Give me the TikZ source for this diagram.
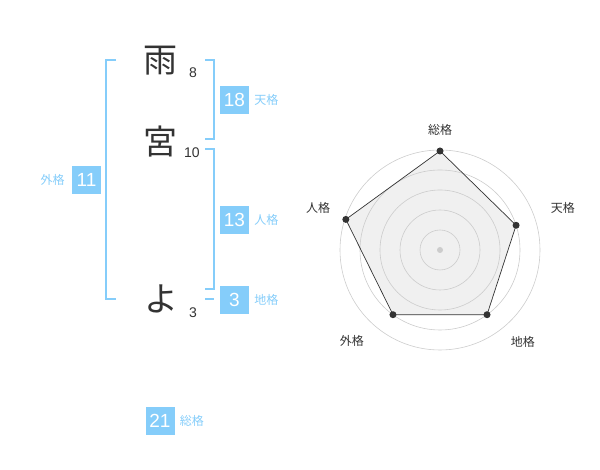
\documentclass[tikz,border=0pt]{standalone}
\usepackage{fontspec}
\setmainfont{Liberation Sans}
\newfontfamily\jp{Noto Sans CJK JP}
\usetikzlibrary{positioning}
\definecolor{kakublue}{HTML}{85CDFA}
\definecolor{inkgray}{HTML}{333333}

\begin{document}
\begin{tikzpicture}[x=1pt,y=1pt,
    kanji/.style={font=\jp\fontsize{34}{34}\selectfont, text=inkgray, inner sep=0pt},
    strokes/.style={font=\fontsize{14}{14}\selectfont, text=inkgray, inner sep=0pt},
    kakubox/.style={fill=kakublue, text=white, minimum width=29pt, minimum height=28pt, inner sep=0pt, font=\fontsize{19}{19}\selectfont},
    kakulabel/.style={font=\jp\fontsize{12}{12}\selectfont, text=kakublue, inner sep=0pt},
    bracket/.style={draw=kakublue, line width=2pt},
    radarlabel/.style={font=\jp\fontsize{12}{12}\selectfont, text=inkgray, inner sep=0pt}]
  \useasboundingbox (0,0) rectangle (600,470);

  % name and strokes
  \node[kanji] (ame) at (160,409) {雨};
  \node[strokes] (n8) at (193,397) {8};
  \node[kanji] (miya) at (160,328) {宮};
  \node[strokes] (n10) at (192,317) {10};
  \node[kanji] (yo) at (161,171) {よ};
  \node[strokes] (n3) at (193,157) {3};

  % brackets
  \draw[bracket] (116,410) -- (106,410) -- (106,171) -- (116,171);
  \draw[bracket] (205,410) -- (214,410) -- (214,331) -- (205,331);
  \draw[bracket] (205,321) -- (214,321) -- (214,181) -- (205,181);
  \draw[bracket] (205,171) -- (214,171);

  % kaku boxes
  \node[kakubox] (ten) at (234.5,370) {18};
  \node[kakulabel, right=5pt of ten] (tenl) {天格};
  \node[kakubox] (jin) at (234.5,250) {13};
  \node[kakulabel, right=5pt of jin] (jinl) {人格};
  \node[kakubox] (chi) at (234.5,170) {3};
  \node[kakulabel, right=5pt of chi] (chil) {地格};
  \node[kakubox] (gai) at (86.5,290) {11};
  \node[kakulabel, left=7pt of gai] (gail) {外格};
  \node[kakubox] (sou) at (160,49) {21};
  \node[kakulabel, right=5pt of sou] (soul) {総格};

  % radar
  \begin{scope}[shift={(440,220)}]
    \foreach \a/\v/\la/\lr/\t [count=\i] in {90/99/90/120/総格, 18/80/19/130/天格, -54/80/-48/124/地格, -126/80/-134/127/外格, 162/99/161/129/人格} {
      \coordinate (p\i) at (\a:\v pt);
      \node[radarlabel] (rl\i) at (\la:\lr pt) {\t};
    }
    \fill[black!6] (p1) -- (p2) -- (p3) -- (p4) -- (p5) -- cycle;
    \foreach \r in {20,40,...,100}
      \draw[black!20, line width=0.6pt] (0,0) circle (\r pt);
    \fill[black!20] (0,0) circle (3pt);
    \draw[inkgray, line width=0.7pt] (p1) -- (p2) -- (p3) -- (p4) -- (p5) -- cycle;
    \foreach \i in {1,...,5}
      \fill[inkgray] (p\i) circle (3.5pt);
  \end{scope}
\end{tikzpicture}
\end{document}
